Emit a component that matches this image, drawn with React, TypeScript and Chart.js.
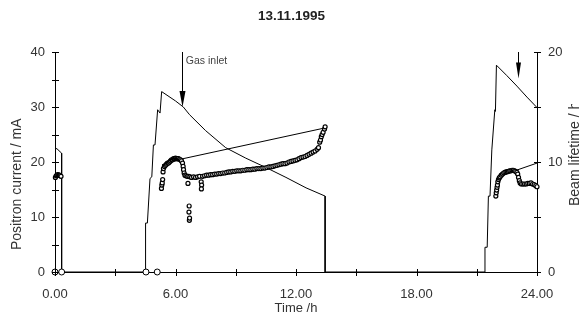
import React, { useEffect, useRef } from 'react';
import { Chart, registerables } from 'chart.js';
Chart.register(...registerables);

const chartTitle = '13.11.1995';
const xTitle = 'Time /h';
const yLeftTitle = 'Positron current / mA';
const yRightTitle = 'Beam lifetime / h';
const xTickLabels = ['0.00', '6.00', '12.00', '18.00', '24.00'];
const yLeftTickLabels = ['0', '10', '20', '30', '40'];
const yRightTickLabels = ['0', '10', '20'];

// Positron current (mA) vs time (h)
const currentTime = [0, 0.1, 0.33, 0.33, 4.51, 4.51, 4.6, 4.73, 4.82, 4.9, 4.98, 5.11, 5.23, 5.31, 6.0, 6.39, 6.7, 7.5, 8.5, 9.5, 10.5, 11.5, 12.5, 13.45, 13.45, 21.41, 21.41, 21.52, 21.58, 21.66, 21.75, 21.9, 21.93, 21.98, 22.5, 23.0, 23.5, 24.0];
const currentValue = [22.5, 22.4, 21.6, 0, 0, 8.9, 8.9, 17.0, 17.3, 23.1, 23.1, 29.5, 28.9, 32.8, 31.1, 30.0, 28.6, 25.7, 22.6, 20.7, 19.0, 17.2, 15.3, 13.8, 0, 0, 4.5, 4.5, 13.8, 13.8, 22.2, 29.5, 29.2, 37.6, 35.7, 33.8, 31.8, 29.9];

// Beam lifetime fit line (h)
const fitTime = [5.33, 6.3, 13.45, 13.46, 22.1, 24.0];
const fitValue = [9.75, 10.27, 13.1, null, 8.7, 9.9];

// Measured beam lifetime (h)
const lifeTime = [
  0.02, 0.06, 0.1, 0.14, 0.18, 0.22, 0.26, 0.3,
  5.3, 5.32, 5.34, 5.36, 5.38, 5.4, 5.45, 5.5, 5.55, 5.6, 5.65, 5.7, 5.75, 5.8, 5.85, 5.9, 5.95, 6.0, 6.05, 6.1, 6.15, 6.2, 6.25, 6.3, 6.35, 6.38, 6.4, 6.43, 6.47, 6.52, 6.58, 6.62, 6.66, 6.68, 6.67, 6.69, 6.7,
  6.72, 6.8, 6.9, 7.0, 7.1, 7.2, 7.28, 7.3, 7.29, 7.35, 7.45, 7.55, 7.65, 7.75, 7.85, 7.95, 8.05, 8.15, 8.25, 8.35, 8.45, 8.55, 8.65, 8.75, 8.85, 8.95,
  9.05, 9.15, 9.25, 9.35, 9.45, 9.55, 9.65, 9.75, 9.85, 9.95, 10.05, 10.15, 10.25, 10.35, 10.45, 10.55, 10.65, 10.75, 10.85, 10.95,
  11.05, 11.15, 11.25, 11.35, 11.45, 11.55, 11.65, 11.75, 11.85, 11.95, 12.05, 12.15, 12.25, 12.35, 12.45, 12.55, 12.65, 12.75, 12.85, 12.95,
  13.05, 13.12, 13.18, 13.22, 13.26, 13.3, 13.35, 13.42, 13.45,
  21.95, 21.97, 21.99, 22.01, 22.03, 22.05, 22.08, 22.12, 22.16, 22.22, 22.28, 22.34, 22.4, 22.46, 22.52, 22.58, 22.64, 22.7, 22.76, 22.82, 22.88, 22.94, 23.0, 23.04, 23.08, 23.12, 23.16, 23.22, 23.3, 23.38, 23.46, 23.54, 23.62, 23.7, 23.78, 23.86, 23.94, 24.0,
];
const lifeValue = [
  8.6, 8.75, 8.8, 8.85, 8.8, 8.8, 8.75, 8.7,
  7.6, 7.9, 8.1, 8.4, 9.1, 9.4, 9.6, 9.7, 9.8, 9.9, 9.9, 10.0, 10.1, 10.2, 10.2, 10.3, 10.3, 10.35, 10.3, 10.3, 10.3, 10.25, 10.2, 10.1, 9.9, 9.6, 9.3, 9.0, 8.8, 8.75, 8.7, 8.05, 8.7, 6.0, 5.45, 4.7, 4.9,
  8.65, 8.6, 8.65, 8.6, 8.65, 8.7, 8.2, 7.9, 7.55, 8.7, 8.75, 8.8, 8.8, 8.85, 8.85, 8.9, 8.9, 8.95, 8.95, 9.0, 9.0, 9.05, 9.1, 9.1, 9.15, 9.15,
  9.2, 9.2, 9.2, 9.25, 9.25, 9.3, 9.3, 9.3, 9.35, 9.35, 9.4, 9.4, 9.4, 9.45, 9.45, 9.5, 9.55, 9.55, 9.6, 9.65,
  9.7, 9.75, 9.8, 9.85, 9.85, 9.9, 10.0, 10.05, 10.1, 10.15, 10.2, 10.3, 10.4, 10.45, 10.5, 10.6, 10.7, 10.8, 10.9, 11.0,
  11.15, 11.3, 11.8, 12.0, 12.3, 12.5, 12.7, 13.0, 13.2,
  6.9, 7.2, 7.45, 7.7, 7.9, 8.2, 8.4, 8.55, 8.65, 8.8, 8.9, 9.0, 9.05, 9.1, 9.12, 9.15, 9.2, 9.2, 9.25, 9.25, 9.2, 9.15, 9.05, 8.9, 8.6, 8.3, 8.1, 8.0, 8.0, 8.0, 8.0, 8.05, 8.05, 8.1, 8.0, 7.95, 7.85, 7.75,
];

// Lifetime readings of zero (beam off)
const zeroTime = [0, 0.33, 4.53, 5.09];
const zeroValue = [0, 0, 0, 0];

// "Gas inlet" arrows: time and current value at the arrow tip
const gasInletLabel = 'Gas inlet';
const arrowTime = [6.34, 23.07];
const arrowTip = [30.0, 35.2];

const FONT = "'Liberation Sans', Arial, sans-serif";
const TEXT = '#333';

const decorPlugin = {
  id: 'decor',
  afterDraw(chart: any) {
    const { ctx, scales } = chart;
    const x = scales.x, y = scales.y, y1 = scales.y1;
    const axisY = y.getPixelForValue(0);
    const leftX = x.getPixelForValue(0);
    const rightX = x.getPixelForValue(24);
    ctx.save();
    ctx.strokeStyle = '#000';
    ctx.lineWidth = 1;
    ctx.beginPath();
    x.ticks.forEach((t: any) => {
      const px = Math.round(x.getPixelForValue(t.value)) + 0.5;
      ctx.moveTo(px, axisY - 3);
      ctx.lineTo(px, axisY + 4);
    });
    y.ticks.forEach((t: any) => {
      const py = Math.round(y.getPixelForValue(t.value)) + 0.5;
      ctx.moveTo(leftX - 3, py);
      ctx.lineTo(leftX + 4, py);
    });
    y1.ticks.forEach((t: any) => {
      const py = Math.round(y1.getPixelForValue(t.value)) + 0.5;
      ctx.moveTo(rightX - 3, py);
      ctx.lineTo(rightX + 4, py);
    });
    ctx.stroke();

    // arrows
    arrowTime.forEach((t, i) => {
      const px = Math.round(x.getPixelForValue(t)) + 0.5;
      const top = y.getPixelForValue(40);
      const tip = y.getPixelForValue(arrowTip[i]);
      const headLen = 16;
      const headHalf = i === 0 ? 3 : 2.5;
      ctx.beginPath();
      ctx.moveTo(px, top);
      ctx.lineTo(px, tip - headLen + 2);
      ctx.stroke();
      ctx.beginPath();
      ctx.moveTo(px - headHalf, tip - headLen);
      ctx.lineTo(px + headHalf, tip - headLen);
      ctx.lineTo(px, tip);
      ctx.closePath();
      ctx.fillStyle = '#000';
      ctx.fill();
    });
    ctx.fillStyle = '#444';
    ctx.font = `10.5px ${FONT}`;
    ctx.textAlign = 'left';
    ctx.textBaseline = 'middle';
    ctx.fillText(gasInletLabel, x.getPixelForValue(arrowTime[0]) + 3.5, y.getPixelForValue(38.3));

    // axis titles (clipped at top as in the original)
    ctx.fillStyle = TEXT;
    ctx.font = `14px ${FONT}`;
    ctx.save();
    ctx.beginPath();
    ctx.rect(0, 107, chart.width, chart.height);
    ctx.clip();
    ctx.translate(17, 250);
    ctx.rotate(-Math.PI / 2);
    ctx.textAlign = 'left';
    ctx.textBaseline = 'middle';
    ctx.fillText(yLeftTitle, 0, 0);
    ctx.restore();

    ctx.save();
    ctx.beginPath();
    ctx.rect(0, 104, chart.width, chart.height);
    ctx.clip();
    ctx.translate(575, 206);
    ctx.rotate(-Math.PI / 2);
    ctx.textAlign = 'left';
    ctx.textBaseline = 'middle';
    ctx.fillText(yRightTitle, 0, 0);
    ctx.restore();

    ctx.restore();
  },
};

export default function App() {
  const ref = useRef<HTMLCanvasElement>(null);
  useEffect(() => {
    if (!ref.current) return;
    const pts = (xs: number[], ys: (number | null)[]) => xs.map((v, i) => ({ x: v, y: ys[i] }));
    const chart = new Chart(ref.current, {
      type: 'line',
      data: {
        datasets: [
          {
            label: 'zero',
            data: pts(zeroTime, zeroValue),
            yAxisID: 'y1',
            showLine: false,
            pointRadius: 3,
            pointBorderWidth: 1,
            pointBorderColor: '#000',
            pointBackgroundColor: '#fff',
            clip: false,
          } as any,
          {
            label: 'lifetime',
            data: pts(lifeTime, lifeValue),
            yAxisID: 'y1',
            showLine: false,
            pointRadius: 2,
            pointBorderWidth: 1.2,
            pointBorderColor: '#000',
            pointBackgroundColor: '#fff',
            clip: false,
          } as any,
          {
            label: 'fit',
            data: pts(fitTime, fitValue),
            yAxisID: 'y1',
            borderColor: '#000',
            borderWidth: 1,
            pointRadius: 0,
            spanGaps: false,
          },
          {
            label: 'current',
            data: pts(currentTime, currentValue),
            yAxisID: 'y',
            borderColor: '#000',
            borderWidth: 1,
            pointRadius: 0,
          },
        ],
      },
      options: {
        responsive: false,
        animation: false,
        events: [],
        layout: { padding: 0 },
        elements: { line: { tension: 0 } },
        plugins: {
          legend: { display: false },
          tooltip: { enabled: false },
          title: {
            display: true,
            text: chartTitle,
            color: '#222',
            font: { family: FONT, size: 13.5, weight: 'bold' },
            padding: { top: 8, bottom: 27.8 },
          },
        },
        scales: {
          x: {
            type: 'linear',
            min: 0,
            max: 24,
            grid: { display: false, drawTicks: false },
            border: { display: true, color: '#000', width: 1 },
            ticks: {
              stepSize: 3,
              autoSkip: false,
              maxRotation: 0,
              padding: 15,
              color: TEXT,
              font: { family: FONT, size: 13 },
              callback: (v: any) => (Number(v) % 6 === 0 ? xTickLabels[Number(v) / 6] : ''),
            },
            title: {
              display: true,
              text: xTitle,
              color: TEXT,
              font: { family: FONT, size: 13 },
              padding: { top: 0, bottom: 7.2 },
            },
            afterFit: (s: any) => { s.height = 51; },
          },
          y: {
            type: 'linear',
            position: 'left',
            min: 0,
            max: 40,
            grid: { display: false, drawTicks: false },
            border: { display: true, color: '#000', width: 1 },
            ticks: {
              stepSize: 5,
              padding: 10,
              color: TEXT,
              font: { family: FONT, size: 13 },
              callback: (v: any) => (Number(v) % 10 === 0 ? yLeftTickLabels[Number(v) / 10] : ''),
            },
            afterFit: (s: any) => { s.width = 55; },
          },
          y1: {
            type: 'linear',
            position: 'right',
            min: 0,
            max: 20,
            grid: { display: false, drawTicks: false },
            border: { display: true, color: '#000', width: 1 },
            ticks: {
              stepSize: 5,
              padding: 11,
              color: TEXT,
              font: { family: FONT, size: 13 },
              callback: (v: any) => (Number(v) % 10 === 0 ? yRightTickLabels[Number(v) / 10] : ''),
            },
            afterFit: (s: any) => { s.width = 46; },
          },
        },
      } as any,
      plugins: [decorPlugin],
    });
    return () => chart.destroy();
  }, []);
  return (
    <div style={{ position: 'fixed', left: 0, top: 0, width: 583, height: 323, background: '#fff' }}>
      <canvas ref={ref} width={583} height={323} />
    </div>
  );
}
